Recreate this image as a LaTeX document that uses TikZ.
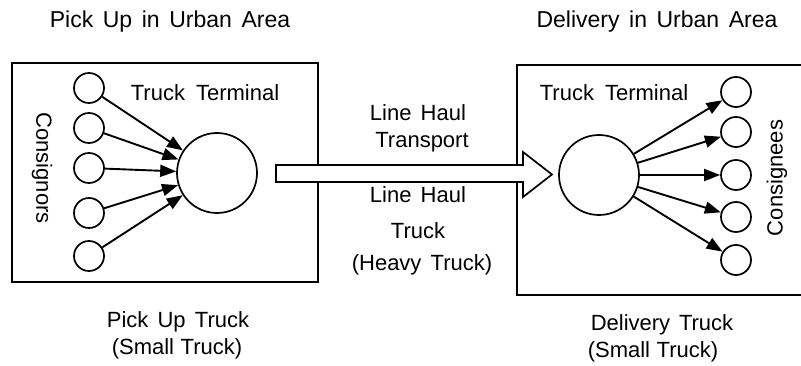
\documentclass[tikz,border=0pt]{standalone}
\usepackage{fontspec}
\setmainfont[WordSpace=1.5]{Liberation Sans}
\usetikzlibrary{arrows.meta}
\begin{document}
\begin{tikzpicture}[x=1pt,y=-1pt,
  lbl/.style={font=\fontsize{22}{26}\selectfont, inner sep=0pt, align=center},
  ttl/.style={font=\fontsize{23}{27}\selectfont, inner sep=0pt},
  small/.style={circle, draw, line width=1.7pt, minimum size=30pt, inner sep=0pt},
  big/.style={circle, draw, line width=1.7pt, minimum size=80pt, inner sep=0pt},
  flow/.style={line width=1.9pt, -{Triangle[length=16pt,width=12pt]}},
  frame/.style={line width=1.9pt}]
\useasboundingbox (0,0) rectangle (801,366);

% titles
\node[ttl] (t1) at (170,22) {Pick Up in Urban Area};
\node[ttl] (t2) at (657,22) {Delivery in Urban Area};

% left box
\draw[frame] (12,63) rectangle (318,282);
% right box (open on the right)
\draw[frame] (801,65) -- (517,65) -- (517,295) -- (801,295);

% block arrow
\draw[line width=1.7pt, fill=white] (276,165) -- (523,165) -- (523,152) -- (552,174.5)
  -- (523,197) -- (523,182) -- (276,182) -- cycle;

% left side
\node[big] (L) at (217,173) {};
\foreach \i/\y in {1/88,2/128,3/168,4/213,5/256}
  \node[small] (s\i) at (89,\y) {};
\foreach \i in {1,...,5}
  \draw[flow] (s\i) -- (L);
\node[lbl] (tt1) at (205,93) {Truck\hspace{0.5em}Terminal};
\node[lbl, rotate=-90] (cons1) at (42,168) {Consignors};

% right side
\node[big] (R) at (599,175) {};
\foreach \i/\y in {1/92,2/132,3/175,4/217,5/260}
  \node[small] (d\i) at (736,\y) {};
\foreach \i in {1,...,5}
  \draw[flow] (R) -- (d\i);
\node[lbl] (tt2) at (614,93) {Truck\hspace{0.5em}Terminal};
\node[lbl, rotate=90] (cons2) at (777,178) {Consignees};

% middle labels
\node[lbl] (lh1) at (418,113) {Line Haul};
\node[lbl] (tr) at (422,142) {Transport};
\node[lbl] (lh2) at (418,195) {Line Haul};
\node[lbl] (tk) at (418,231) {Truck};
\node[lbl] (hv) at (422,265) {(Heavy Truck)};

% bottom labels
\node[lbl] (pu) at (178,322) {Pick Up Truck};
\node[lbl] (st1) at (177,349) {(Small\hspace{0.3em}Truck)};
\node[lbl] (dt) at (662,325) {Delivery\hspace{0.4em}Truck};
\node[lbl] (st2) at (653,352) {(Small\hspace{0.3em}Truck)};
\end{tikzpicture}
\end{document}
